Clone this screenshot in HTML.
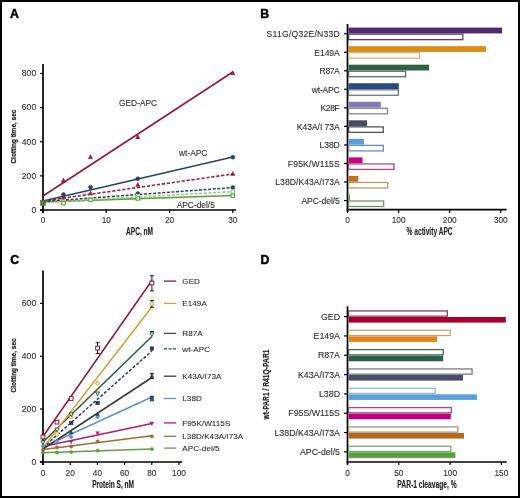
<!DOCTYPE html>
<html><head><meta charset="utf-8"><style>
html,body{margin:0;padding:0;background:#fff;}
svg{display:block;font-family:"Liberation Sans", sans-serif;will-change:transform;}
text{stroke-linejoin:round;}
.t{stroke:#2c2c2c;stroke-width:0.1;}
</style></head><body>
<svg width="520" height="498" viewBox="0 0 520 498">
<rect x="0" y="0" width="520" height="498" fill="#fff"/>
<rect x="1" y="1" width="518" height="496" fill="none" stroke="#000" stroke-width="2"/>
<text  x="9.9" y="17.7" font-size="12.3" text-anchor="start" fill="#000" font-weight="bold" stroke="#000" stroke-width="0.45">A</text>
<text  x="260.3" y="17.6" font-size="12.3" text-anchor="start" fill="#000" font-weight="bold" stroke="#000" stroke-width="0.45">B</text>
<text  x="10.2" y="264.2" font-size="12.3" text-anchor="start" fill="#000" font-weight="bold" stroke="#000" stroke-width="0.45">C</text>
<text  x="260.4" y="264.1" font-size="12.3" text-anchor="start" fill="#000" font-weight="bold" stroke="#000" stroke-width="0.45">D</text>
<line x1="43" y1="64" x2="43" y2="213" stroke="#000" stroke-width="1.7" />
<line x1="40" y1="210" x2="236" y2="210" stroke="#000" stroke-width="1.7" />
<line x1="40" y1="210.0" x2="43" y2="210.0" stroke="#000" stroke-width="1.2" />
<text class="t" x="36.2" y="212.8" font-size="8.6" text-anchor="end" fill="#2c2c2c" font-weight="normal" >0</text>
<line x1="40" y1="175.875" x2="43" y2="175.875" stroke="#000" stroke-width="1.2" />
<text class="t" x="36.2" y="178.675" font-size="8.6" text-anchor="end" fill="#2c2c2c" font-weight="normal" >200</text>
<line x1="40" y1="141.75" x2="43" y2="141.75" stroke="#000" stroke-width="1.2" />
<text class="t" x="36.2" y="144.55" font-size="8.6" text-anchor="end" fill="#2c2c2c" font-weight="normal" >400</text>
<line x1="40" y1="107.625" x2="43" y2="107.625" stroke="#000" stroke-width="1.2" />
<text class="t" x="36.2" y="110.425" font-size="8.6" text-anchor="end" fill="#2c2c2c" font-weight="normal" >600</text>
<line x1="40" y1="73.5" x2="43" y2="73.5" stroke="#000" stroke-width="1.2" />
<text class="t" x="36.2" y="76.3" font-size="8.6" text-anchor="end" fill="#2c2c2c" font-weight="normal" >800</text>
<line x1="43" y1="210" x2="43" y2="213" stroke="#000" stroke-width="1.2" />
<text class="t" x="43" y="223" font-size="8.3" text-anchor="middle" fill="#2c2c2c" font-weight="normal" >0</text>
<line x1="106.3" y1="210" x2="106.3" y2="213" stroke="#000" stroke-width="1.2" />
<text class="t" x="106.3" y="223" font-size="8.3" text-anchor="middle" fill="#2c2c2c" font-weight="normal" >10</text>
<line x1="169.6" y1="210" x2="169.6" y2="213" stroke="#000" stroke-width="1.2" />
<text class="t" x="169.6" y="223" font-size="8.3" text-anchor="middle" fill="#2c2c2c" font-weight="normal" >20</text>
<line x1="232.8" y1="210" x2="232.8" y2="213" stroke="#000" stroke-width="1.2" />
<text class="t" x="232.8" y="223" font-size="8.3" text-anchor="middle" fill="#2c2c2c" font-weight="normal" >30</text>
<text x="139.6" y="234.6" font-size="10" font-weight="bold" fill="#222" stroke="#222" stroke-width="0.12" text-anchor="middle" textLength="27" lengthAdjust="spacingAndGlyphs">APC, nM</text>
<text transform="translate(15.8,136.6) rotate(-90)" x="0" y="0" font-size="8" stroke="#222" stroke-width="0.25" font-weight="bold" fill="#222" stroke="#222" stroke-width="0.2" text-anchor="middle" textLength="54" lengthAdjust="spacingAndGlyphs">Clotting time, sec</text>
<text class="t" x="119" y="106.1" font-size="8.4" text-anchor="start" fill="#2c2c2c" font-weight="normal" >GED-APC</text>
<text class="t" x="179" y="156.4" font-size="8.4" text-anchor="start" fill="#2c2c2c" font-weight="normal" >wt-APC</text>
<text class="t" x="176.7" y="207.6" font-size="8.4" text-anchor="start" fill="#2c2c2c" font-weight="normal" >APC-del/5</text>
<line x1="43" y1="201.8" x2="232.8" y2="195.5" stroke="#5aa040" stroke-width="1.7" />
<line x1="43" y1="202.5" x2="232.8" y2="191.6" stroke="#9cc878" stroke-width="1.5" stroke-dasharray="3,1.6"/>
<line x1="43" y1="201.5" x2="232.8" y2="187.6" stroke="#28406a" stroke-width="1.5" stroke-dasharray="3,1.6"/>
<line x1="43" y1="201" x2="232.8" y2="174" stroke="#a81e38" stroke-width="1.6" stroke-dasharray="3.2,1.8"/>
<line x1="43" y1="201" x2="232.8" y2="157" stroke="#28406a" stroke-width="1.5" />
<line x1="43" y1="196" x2="232.8" y2="72" stroke="#94183a" stroke-width="1.6" />
<path d="M61.40,198.98 L65.60,198.98 L63.50,194.99 Z" fill="#a81e38" stroke="#a81e38" stroke-width="0.6"/>
<path d="M88.40,194.98 L92.60,194.98 L90.50,190.99 Z" fill="#a81e38" stroke="#a81e38" stroke-width="0.6"/>
<path d="M135.70,186.48 L139.90,186.48 L137.80,182.49 Z" fill="#a81e38" stroke="#a81e38" stroke-width="0.6"/>
<path d="M230.70,175.38 L234.90,175.38 L232.80,171.39 Z" fill="#a81e38" stroke="#a81e38" stroke-width="0.6"/>
<circle cx="137.8" cy="193.6" r="2.0" fill="#28406a" stroke="#28406a" stroke-width="0.5"/>
<circle cx="232.8" cy="187.6" r="2.0" fill="#28406a" stroke="#28406a" stroke-width="0.5"/>
<rect x="61.8" y="200.3" width="3.4" height="3.4" fill="#f4faee" stroke="#9cc878" stroke-width="1"/>
<rect x="88.8" y="197.8" width="3.4" height="3.4" fill="#f4faee" stroke="#9cc878" stroke-width="1"/>
<rect x="136.10000000000002" y="194.3" width="3.4" height="3.4" fill="#f4faee" stroke="#9cc878" stroke-width="1"/>
<rect x="231.10000000000002" y="189.9" width="3.4" height="3.4" fill="#f4faee" stroke="#9cc878" stroke-width="1"/>
<rect x="61.8" y="201.60000000000002" width="3.4" height="3.4" fill="#eef6e6" stroke="#5aa040" stroke-width="1"/>
<rect x="88.8" y="198.10000000000002" width="3.4" height="3.4" fill="#eef6e6" stroke="#5aa040" stroke-width="1"/>
<rect x="136.10000000000002" y="196.8" width="3.4" height="3.4" fill="#eef6e6" stroke="#5aa040" stroke-width="1"/>
<rect x="231.10000000000002" y="194.0" width="3.4" height="3.4" fill="#eef6e6" stroke="#5aa040" stroke-width="1"/>
<rect x="40.6" y="200.6" width="4.8" height="4.8" fill="#5a7a3a" stroke="#4a6a30" stroke-width="0.6"/>
<circle cx="63.5" cy="194.5" r="2.0" fill="#28406a" stroke="#28406a" stroke-width="0.5"/>
<circle cx="90.5" cy="187.2" r="2.0" fill="#28406a" stroke="#28406a" stroke-width="0.5"/>
<circle cx="137.8" cy="178.7" r="2.0" fill="#28406a" stroke="#28406a" stroke-width="0.5"/>
<circle cx="232.8" cy="157.2" r="2.0" fill="#28406a" stroke="#28406a" stroke-width="0.5"/>
<path d="M61.40,182.18 L65.60,182.18 L63.50,178.19 Z" fill="#94183a" stroke="#94183a" stroke-width="0.6"/>
<path d="M88.40,158.68 L92.60,158.68 L90.50,154.69 Z" fill="#94183a" stroke="#94183a" stroke-width="0.6"/>
<path d="M135.70,138.68 L139.90,138.68 L137.80,134.69 Z" fill="#94183a" stroke="#94183a" stroke-width="0.6"/>
<path d="M230.70,74.68 L234.90,74.68 L232.80,70.69 Z" fill="#94183a" stroke="#94183a" stroke-width="0.6"/>
<line x1="347.5" y1="24" x2="347.5" y2="212" stroke="#000" stroke-width="1.7" />
<line x1="346.65" y1="209.7" x2="506.5" y2="209.7" stroke="#000" stroke-width="1.7" />
<line x1="347.5" y1="209.7" x2="347.5" y2="213" stroke="#000" stroke-width="1.2" />
<text class="t" x="347.5" y="223.2" font-size="8.3" text-anchor="middle" fill="#2c2c2c" font-weight="normal" >0</text>
<line x1="398.6" y1="209.7" x2="398.6" y2="213" stroke="#000" stroke-width="1.2" />
<text class="t" x="398.6" y="223.2" font-size="8.3" text-anchor="middle" fill="#2c2c2c" font-weight="normal" >100</text>
<line x1="449.7" y1="209.7" x2="449.7" y2="213" stroke="#000" stroke-width="1.2" />
<text class="t" x="449.7" y="223.2" font-size="8.3" text-anchor="middle" fill="#2c2c2c" font-weight="normal" >200</text>
<line x1="500.8" y1="209.7" x2="500.8" y2="213" stroke="#000" stroke-width="1.2" />
<text class="t" x="500.8" y="223.2" font-size="8.3" text-anchor="middle" fill="#2c2c2c" font-weight="normal" >300</text>
<text x="429.6" y="234.5" font-size="10" font-weight="bold" fill="#222" stroke="#222" stroke-width="0.12" text-anchor="middle" textLength="46" lengthAdjust="spacingAndGlyphs">% activity APC</text>
<line x1="344" y1="33.7" x2="347.5" y2="33.7" stroke="#000" stroke-width="1.2" />
<text class="t" x="266.6" y="37.10" font-size="8.6" fill="#2c2c2c" textLength="73.2" lengthAdjust="spacing">S11G/Q32E/N33D</text>
<rect x="348.5" y="27.6" width="153.5" height="5.8" fill="#52286c" stroke="none" stroke-width="1"/>
<rect x="348.65" y="34.150000000000006" width="114.20000000000002" height="5.5" fill="#fff" stroke="#5a3c70" stroke-width="1.3"/>
<line x1="344" y1="52.24" x2="347.5" y2="52.24" stroke="#000" stroke-width="1.2" />
<text class="t" x="314.3" y="55.64" font-size="8.6" fill="#2c2c2c" textLength="25.5" lengthAdjust="spacing">E149A</text>
<rect x="348.5" y="46.14" width="137.60000000000002" height="5.8" fill="#da8e16" stroke="none" stroke-width="1"/>
<rect x="348.65" y="52.690000000000005" width="70.80000000000004" height="5.5" fill="#fff" stroke="#d2b080" stroke-width="1.3"/>
<line x1="344" y1="70.78" x2="347.5" y2="70.78" stroke="#000" stroke-width="1.2" />
<text class="t" x="319.6" y="74.18" font-size="8.6" fill="#2c2c2c" textLength="20.2" lengthAdjust="spacing">R87A</text>
<rect x="348.5" y="64.68" width="80.60000000000002" height="5.8" fill="#30604a" stroke="none" stroke-width="1"/>
<rect x="348.65" y="71.23" width="56.90000000000001" height="5.5" fill="#fff" stroke="#5a6e62" stroke-width="1.3"/>
<line x1="344" y1="89.32" x2="347.5" y2="89.32" stroke="#000" stroke-width="1.2" />
<text class="t" x="311.7" y="92.72" font-size="8.6" fill="#2c2c2c" textLength="28.1" lengthAdjust="spacing">wt-APC</text>
<rect x="348.5" y="83.22" width="50.30000000000001" height="5.8" fill="#2a4a80" stroke="none" stroke-width="1"/>
<rect x="348.65" y="89.77" width="49.700000000000024" height="5.5" fill="#fff" stroke="#687890" stroke-width="1.3"/>
<line x1="344" y1="107.86" x2="347.5" y2="107.86" stroke="#000" stroke-width="1.2" />
<text class="t" x="320.5" y="111.26" font-size="8.6" fill="#2c2c2c" textLength="19.3" lengthAdjust="spacing">K28F</text>
<rect x="348.5" y="101.76" width="32.30000000000001" height="5.8" fill="#8478b8" stroke="none" stroke-width="1"/>
<rect x="348.65" y="108.31" width="38.80000000000005" height="5.5" fill="#fff" stroke="#858598" stroke-width="1.3"/>
<line x1="344" y1="126.39999999999999" x2="347.5" y2="126.39999999999999" stroke="#000" stroke-width="1.2" />
<text class="t" x="296.8" y="129.80" font-size="8.6" fill="#2c2c2c" textLength="43.0" lengthAdjust="spacing">K43A/I 73A</text>
<rect x="348.5" y="120.3" width="18.600000000000023" height="5.8" fill="#484c60" stroke="none" stroke-width="1"/>
<rect x="348.65" y="126.85" width="34.6" height="5.5" fill="#fff" stroke="#505058" stroke-width="1.3"/>
<line x1="344" y1="144.94" x2="347.5" y2="144.94" stroke="#000" stroke-width="1.2" />
<text class="t" x="319.6" y="148.34" font-size="8.6" fill="#2c2c2c" textLength="20.2" lengthAdjust="spacing">L38D</text>
<rect x="348.5" y="138.84" width="15.399999999999977" height="5.8" fill="#5aa0d8" stroke="none" stroke-width="1"/>
<rect x="348.65" y="145.39" width="34.700000000000024" height="5.5" fill="#fff" stroke="#6a90b0" stroke-width="1.3"/>
<line x1="344" y1="163.48000000000002" x2="347.5" y2="163.48000000000002" stroke="#000" stroke-width="1.2" />
<text class="t" x="287.8" y="166.88" font-size="8.6" fill="#2c2c2c" textLength="52.0" lengthAdjust="spacing">F95K/W115S</text>
<rect x="348.5" y="157.38000000000002" width="14.0" height="5.8" fill="#c8047e" stroke="none" stroke-width="1"/>
<rect x="348.65" y="163.93" width="45.30000000000005" height="5.5" fill="#fff" stroke="#b04880" stroke-width="1.3"/>
<line x1="344" y1="182.01999999999998" x2="347.5" y2="182.01999999999998" stroke="#000" stroke-width="1.2" />
<text class="t" x="275.3" y="185.42" font-size="8.6" fill="#2c2c2c" textLength="64.5" lengthAdjust="spacing">L38D/K43A/I73A</text>
<rect x="348.5" y="175.92" width="9.800000000000011" height="5.8" fill="#c07020" stroke="none" stroke-width="1"/>
<rect x="348.65" y="182.46999999999997" width="39.200000000000024" height="5.5" fill="#fff" stroke="#b89868" stroke-width="1.3"/>
<line x1="344" y1="200.56" x2="347.5" y2="200.56" stroke="#000" stroke-width="1.2" />
<text class="t" x="301.4" y="203.96" font-size="8.6" fill="#2c2c2c" textLength="38.4" lengthAdjust="spacing">APC-del/5</text>
<rect x="348.5" y="194.46" width="1.6000000000000227" height="5.8" fill="#6a9a50" stroke="none" stroke-width="1"/>
<rect x="348.65" y="201.01" width="35.000000000000036" height="5.5" fill="#fff" stroke="#7a9060" stroke-width="1.3"/>
<line x1="43" y1="270.5" x2="43" y2="465" stroke="#000" stroke-width="1.7" />
<line x1="40" y1="462" x2="182.3" y2="462" stroke="#000" stroke-width="1.7" />
<line x1="40" y1="461.8" x2="43" y2="461.8" stroke="#000" stroke-width="1.2" />
<text class="t" x="36.2" y="464.6" font-size="8.6" text-anchor="end" fill="#2c2c2c" font-weight="normal" >0</text>
<line x1="40" y1="409.0" x2="43" y2="409.0" stroke="#000" stroke-width="1.2" />
<text class="t" x="36.2" y="411.8" font-size="8.6" text-anchor="end" fill="#2c2c2c" font-weight="normal" >200</text>
<line x1="40" y1="356.2" x2="43" y2="356.2" stroke="#000" stroke-width="1.2" />
<text class="t" x="36.2" y="359.0" font-size="8.6" text-anchor="end" fill="#2c2c2c" font-weight="normal" >400</text>
<line x1="40" y1="303.4" x2="43" y2="303.4" stroke="#000" stroke-width="1.2" />
<text class="t" x="36.2" y="306.2" font-size="8.6" text-anchor="end" fill="#2c2c2c" font-weight="normal" >600</text>
<line x1="43" y1="462" x2="43" y2="465" stroke="#000" stroke-width="1.2" />
<text class="t" x="43" y="476" font-size="8.3" text-anchor="middle" fill="#2c2c2c" font-weight="normal" >0</text>
<line x1="70.2" y1="462" x2="70.2" y2="465" stroke="#000" stroke-width="1.2" />
<text class="t" x="70.2" y="476" font-size="8.3" text-anchor="middle" fill="#2c2c2c" font-weight="normal" >20</text>
<line x1="97.4" y1="462" x2="97.4" y2="465" stroke="#000" stroke-width="1.2" />
<text class="t" x="97.4" y="476" font-size="8.3" text-anchor="middle" fill="#2c2c2c" font-weight="normal" >40</text>
<line x1="124.6" y1="462" x2="124.6" y2="465" stroke="#000" stroke-width="1.2" />
<text class="t" x="124.6" y="476" font-size="8.3" text-anchor="middle" fill="#2c2c2c" font-weight="normal" >60</text>
<line x1="151.8" y1="462" x2="151.8" y2="465" stroke="#000" stroke-width="1.2" />
<text class="t" x="151.8" y="476" font-size="8.3" text-anchor="middle" fill="#2c2c2c" font-weight="normal" >80</text>
<line x1="179" y1="462" x2="179" y2="465" stroke="#000" stroke-width="1.2" />
<text class="t" x="179" y="476" font-size="8.3" text-anchor="middle" fill="#2c2c2c" font-weight="normal" >100</text>
<text x="113.1" y="487.9" font-size="10.1" font-weight="bold" fill="#222" stroke="#222" stroke-width="0.12" text-anchor="middle" textLength="41.8" lengthAdjust="spacingAndGlyphs">Protein S, nM</text>
<text transform="translate(15.8,365.4) rotate(-90)" x="0" y="0" font-size="8" stroke="#222" stroke-width="0.25" font-weight="bold" fill="#222" stroke="#222" stroke-width="0.2" text-anchor="middle" textLength="54" lengthAdjust="spacingAndGlyphs">Clotting time, sec</text>
<line x1="43" y1="452.7" x2="151.9" y2="449.1" stroke="#5e9e46" stroke-width="1.5" />
<line x1="43" y1="449.4" x2="151.9" y2="435.8" stroke="#a06a3a" stroke-width="1.5" />
<line x1="43" y1="446.5" x2="151.9" y2="423.6" stroke="#b81a6e" stroke-width="1.5" />
<line x1="43" y1="447" x2="151.9" y2="397" stroke="#5896cc" stroke-width="1.5" />
<line x1="43" y1="449" x2="151.9" y2="377.5" stroke="#38383f" stroke-width="1.5" />
<line x1="43" y1="447.5" x2="151.9" y2="351" stroke="#263a68" stroke-width="1.5" stroke-dasharray="3,1.8"/>
<line x1="43" y1="442" x2="151.9" y2="336.5" stroke="#2a5a3c" stroke-width="1.5" />
<line x1="43" y1="447.6" x2="151.9" y2="307" stroke="#d89c28" stroke-width="1.5" />
<line x1="43" y1="436.5" x2="151.9" y2="280.5" stroke="#8e1636" stroke-width="1.5" />
<line x1="164" y1="281.1" x2="176.2" y2="281.1" stroke="#8e1636" stroke-width="1.3" />
<text class="t" x="182.3" y="284.0" font-size="8.1" text-anchor="start" fill="#2c2c2c" font-weight="normal" letter-spacing="0.05">GED</text>
<line x1="164" y1="303.4" x2="176.2" y2="303.4" stroke="#d89c28" stroke-width="1.3" />
<text class="t" x="182.3" y="306.29999999999995" font-size="8.1" text-anchor="start" fill="#2c2c2c" font-weight="normal" letter-spacing="0.05">E149A</text>
<line x1="164" y1="333.4" x2="176.2" y2="333.4" stroke="#2a5a3c" stroke-width="1.3" />
<text class="t" x="182.3" y="336.29999999999995" font-size="8.1" text-anchor="start" fill="#2c2c2c" font-weight="normal" letter-spacing="0.05">R87A</text>
<line x1="164" y1="348.8" x2="176.2" y2="348.8" stroke="#263a68" stroke-width="1.3" stroke-dasharray="3,1.5"/>
<text class="t" x="182.3" y="351.7" font-size="8.1" text-anchor="start" fill="#2c2c2c" font-weight="normal" letter-spacing="0.05">wt-APC</text>
<line x1="164" y1="376.2" x2="176.2" y2="376.2" stroke="#38383f" stroke-width="1.3" />
<text class="t" x="182.3" y="379.09999999999997" font-size="8.1" text-anchor="start" fill="#2c2c2c" font-weight="normal" letter-spacing="0.05">K43A/I73A</text>
<line x1="164" y1="398.5" x2="176.2" y2="398.5" stroke="#5896cc" stroke-width="1.3" />
<text class="t" x="182.3" y="401.4" font-size="8.1" text-anchor="start" fill="#2c2c2c" font-weight="normal" letter-spacing="0.05">L38D</text>
<line x1="164" y1="422.9" x2="176.2" y2="422.9" stroke="#b81a6e" stroke-width="1.3" />
<text class="t" x="182.3" y="425.79999999999995" font-size="8.1" text-anchor="start" fill="#2c2c2c" font-weight="normal" letter-spacing="0.05">F95K/W115S</text>
<line x1="164" y1="436.3" x2="176.2" y2="436.3" stroke="#a06a3a" stroke-width="1.3" />
<text class="t" x="182.3" y="439.2" font-size="8.1" text-anchor="start" fill="#2c2c2c" font-weight="normal" letter-spacing="0.05">L38D/K43A/I73A</text>
<line x1="164" y1="448.1" x2="176.2" y2="448.1" stroke="#5e9e46" stroke-width="1.3" />
<text class="t" x="182.3" y="451.0" font-size="8.1" text-anchor="start" fill="#2c2c2c" font-weight="normal" letter-spacing="0.05">APC-del/5</text>
<line x1="97.6" y1="342.7" x2="97.6" y2="353.5" stroke="#222" stroke-width="1" />
<line x1="95.6" y1="342.7" x2="99.6" y2="342.7" stroke="#222" stroke-width="1.1" />
<line x1="95.6" y1="353.5" x2="99.6" y2="353.5" stroke="#222" stroke-width="1.1" />
<line x1="151.9" y1="275.8" x2="151.9" y2="290.9" stroke="#222" stroke-width="1" />
<line x1="149.9" y1="275.8" x2="153.9" y2="275.8" stroke="#222" stroke-width="1.1" />
<line x1="149.9" y1="290.9" x2="153.9" y2="290.9" stroke="#222" stroke-width="1.1" />
<line x1="151.9" y1="300.5" x2="151.9" y2="307.2" stroke="#222" stroke-width="1" />
<line x1="149.9" y1="300.5" x2="153.9" y2="300.5" stroke="#222" stroke-width="1.1" />
<line x1="149.9" y1="307.2" x2="153.9" y2="307.2" stroke="#222" stroke-width="1.1" />
<line x1="149.9" y1="331.4" x2="153.9" y2="331.4" stroke="#222" stroke-width="1.1" />
<line x1="151.9" y1="373.6" x2="151.9" y2="378.4" stroke="#222" stroke-width="1" />
<line x1="149.9" y1="373.6" x2="153.9" y2="373.6" stroke="#222" stroke-width="1.1" />
<line x1="149.9" y1="378.4" x2="153.9" y2="378.4" stroke="#222" stroke-width="1.1" />
<circle cx="43" cy="452.5" r="1.7" fill="#5e9e46" stroke="#5e9e46" stroke-width="0.5"/>
<circle cx="57" cy="452.5" r="1.7" fill="#5e9e46" stroke="#5e9e46" stroke-width="0.5"/>
<circle cx="71.2" cy="452.1" r="1.7" fill="#5e9e46" stroke="#5e9e46" stroke-width="0.5"/>
<circle cx="97.6" cy="450.6" r="1.7" fill="#5e9e46" stroke="#5e9e46" stroke-width="0.5"/>
<circle cx="151.9" cy="449.1" r="1.7" fill="#5e9e46" stroke="#5e9e46" stroke-width="0.5"/>
<circle cx="43" cy="450.1" r="1.7" fill="#a06a3a" stroke="#a06a3a" stroke-width="0.5"/>
<circle cx="57" cy="447.3" r="1.7" fill="#a06a3a" stroke="#a06a3a" stroke-width="0.5"/>
<circle cx="71.2" cy="446.5" r="1.7" fill="#a06a3a" stroke="#a06a3a" stroke-width="0.5"/>
<circle cx="97.6" cy="441.5" r="1.7" fill="#a06a3a" stroke="#a06a3a" stroke-width="0.5"/>
<circle cx="151.9" cy="436.4" r="1.7" fill="#a06a3a" stroke="#a06a3a" stroke-width="0.5"/>
<path d="M69.40,440.26 L73.00,440.26 L71.20,443.68 Z" fill="#b81a6e" stroke="#b81a6e" stroke-width="0.5"/>
<path d="M95.80,431.76 L99.40,431.76 L97.60,435.18 Z" fill="#b81a6e" stroke="#b81a6e" stroke-width="0.5"/>
<path d="M150.10,421.96 L153.70,421.96 L151.90,425.38 Z" fill="#b81a6e" stroke="#b81a6e" stroke-width="0.5"/>
<path d="M43,444.0 L45.1,446.1 L43,448.20000000000005 L40.9,446.1 Z" fill="#5896cc" stroke="#5896cc" stroke-width="0.5"/>
<path d="M57,439.2 L59.1,441.3 L57,443.40000000000003 L54.9,441.3 Z" fill="#5896cc" stroke="#5896cc" stroke-width="0.5"/>
<path d="M71.2,434.79999999999995 L73.3,436.9 L71.2,439.0 L69.10000000000001,436.9 Z" fill="#5896cc" stroke="#5896cc" stroke-width="0.5"/>
<path d="M97.6,415.0 L99.69999999999999,417.1 L97.6,419.20000000000005 L95.5,417.1 Z" fill="#5896cc" stroke="#5896cc" stroke-width="0.5"/>
<rect x="150.1" y="396.7" width="3.6" height="3.6" fill="#3a5a80" stroke="#3a5a80" stroke-width="0.5"/>
<line x1="151.9" y1="396.3" x2="151.9" y2="400.7" stroke="#2a3a50" stroke-width="1" />
<line x1="149.9" y1="396.3" x2="153.9" y2="396.3" stroke="#2a3a50" stroke-width="1.1" />
<line x1="149.9" y1="400.7" x2="153.9" y2="400.7" stroke="#2a3a50" stroke-width="1.1" />
<path d="M69.40,433.84 L73.00,433.84 L71.20,430.42 Z" fill="#38383f" stroke="#38383f" stroke-width="0.5"/>
<path d="M95.80,415.44 L99.40,415.44 L97.60,412.02 Z" fill="#38383f" stroke="#38383f" stroke-width="0.5"/>
<path d="M150.10,377.44 L153.70,377.44 L151.90,374.02 Z" fill="#38383f" stroke="#38383f" stroke-width="0.5"/>
<rect x="69.4" y="421.2" width="3.6" height="3.6" fill="#263a68" stroke="#263a68" stroke-width="0.5"/>
<rect x="95.8" y="401.2" width="3.6" height="3.6" fill="#263a68" stroke="#263a68" stroke-width="0.5"/>
<rect x="150.1" y="346.8" width="3.6" height="3.6" fill="#263a68" stroke="#263a68" stroke-width="0.5"/>
<circle cx="57" cy="434.5" r="1.8" fill="#fff" stroke="#d89c28" stroke-width="1"/>
<circle cx="71.2" cy="416.9" r="1.8" fill="#fff" stroke="#d89c28" stroke-width="1"/>
<circle cx="97.6" cy="383.3" r="1.8" fill="#fff" stroke="#d89c28" stroke-width="1"/>
<circle cx="151.9" cy="303.8" r="1.8" fill="#fff" stroke="#d89c28" stroke-width="1"/>
<path d="M41.00,440.90 L45.00,440.90 L43.00,444.70 Z" fill="#fff" stroke="#2a5a3c" stroke-width="1"/>
<path d="M55.00,428.10 L59.00,428.10 L57.00,431.90 Z" fill="#fff" stroke="#2a5a3c" stroke-width="1"/>
<path d="M69.20,412.90 L73.20,412.90 L71.20,416.70 Z" fill="#fff" stroke="#2a5a3c" stroke-width="1"/>
<path d="M95.60,392.00 L99.60,392.00 L97.60,395.80 Z" fill="#fff" stroke="#2a5a3c" stroke-width="1"/>
<path d="M149.90,332.70 L153.90,332.70 L151.90,336.50 Z" fill="#fff" stroke="#2a5a3c" stroke-width="1"/>
<rect x="41.1" y="435.1" width="3.8" height="3.8" fill="#fff" stroke="#8e1636" stroke-width="1"/>
<rect x="55.1" y="420.20000000000005" width="3.8" height="3.8" fill="#fff" stroke="#8e1636" stroke-width="1"/>
<rect x="69.3" y="396.6" width="3.8" height="3.8" fill="#fff" stroke="#8e1636" stroke-width="1"/>
<rect x="95.69999999999999" y="346.20000000000005" width="3.8" height="3.8" fill="#fff" stroke="#8e1636" stroke-width="1"/>
<rect x="150.0" y="281.1" width="3.8" height="3.8" fill="#fff" stroke="#8e1636" stroke-width="1"/>
<line x1="347.5" y1="306.3" x2="347.5" y2="464.5" stroke="#000" stroke-width="1.7" />
<line x1="346.65" y1="462" x2="506.7" y2="462" stroke="#000" stroke-width="1.7" />
<line x1="347.5" y1="462" x2="347.5" y2="465" stroke="#000" stroke-width="1.2" />
<text class="t" x="347.5" y="476" font-size="8.3" text-anchor="middle" fill="#2c2c2c" font-weight="normal" >0</text>
<line x1="398.8" y1="462" x2="398.8" y2="465" stroke="#000" stroke-width="1.2" />
<text class="t" x="398.8" y="476" font-size="8.3" text-anchor="middle" fill="#2c2c2c" font-weight="normal" >50</text>
<line x1="450.1" y1="462" x2="450.1" y2="465" stroke="#000" stroke-width="1.2" />
<text class="t" x="450.1" y="476" font-size="8.3" text-anchor="middle" fill="#2c2c2c" font-weight="normal" >100</text>
<line x1="501.4" y1="462" x2="501.4" y2="465" stroke="#000" stroke-width="1.2" />
<text class="t" x="501.4" y="476" font-size="8.3" text-anchor="middle" fill="#2c2c2c" font-weight="normal" >150</text>
<text x="427" y="487.5" font-size="10.1" font-weight="bold" fill="#222" stroke="#222" stroke-width="0.12" text-anchor="middle" textLength="59.3" lengthAdjust="spacingAndGlyphs">PAR-1 cleavage, %</text>
<text transform="translate(269.3,384.5) rotate(-90)" x="0" y="0" font-size="8.8" font-weight="bold" fill="#222" stroke="#222" stroke-width="0.2" text-anchor="middle" textLength="70" lengthAdjust="spacingAndGlyphs">wt-PAR1 / R41Q-PAR1</text>
<line x1="344" y1="316.6" x2="347.5" y2="316.6" stroke="#000" stroke-width="1.2" />
<text class="t" x="340" y="319.70000000000005" font-size="8.8" text-anchor="end" fill="#2c2c2c" font-weight="normal" >GED</text>
<rect x="348.65" y="310.95000000000005" width="98.70000000000002" height="5.2" fill="#fff" stroke="#904058" stroke-width="1.3"/>
<rect x="348.5" y="317.0" width="157.3" height="5.6" fill="#a80028" stroke="none" stroke-width="1"/>
<line x1="344" y1="335.93" x2="347.5" y2="335.93" stroke="#000" stroke-width="1.2" />
<text class="t" x="340" y="339.03000000000003" font-size="8.8" text-anchor="end" fill="#2c2c2c" font-weight="normal" >E149A</text>
<rect x="348.65" y="330.28000000000003" width="101.50000000000003" height="5.2" fill="#fff" stroke="#c8a474" stroke-width="1.3"/>
<rect x="348.5" y="336.33" width="88.5" height="5.6" fill="#e0861a" stroke="none" stroke-width="1"/>
<line x1="344" y1="355.26" x2="347.5" y2="355.26" stroke="#000" stroke-width="1.2" />
<text class="t" x="340" y="358.36" font-size="8.8" text-anchor="end" fill="#2c2c2c" font-weight="normal" >R87A</text>
<rect x="348.65" y="349.61" width="94.6" height="5.2" fill="#fff" stroke="#4a6a50" stroke-width="1.3"/>
<rect x="348.5" y="355.65999999999997" width="94.69999999999999" height="5.6" fill="#2e5e48" stroke="none" stroke-width="1"/>
<line x1="344" y1="374.59000000000003" x2="347.5" y2="374.59000000000003" stroke="#000" stroke-width="1.2" />
<text class="t" x="340" y="377.69000000000005" font-size="8.8" text-anchor="end" fill="#2c2c2c" font-weight="normal" >K43A/I73A</text>
<rect x="348.65" y="368.94000000000005" width="123.4" height="5.2" fill="#fff" stroke="#7a7880" stroke-width="1.3"/>
<rect x="348.5" y="374.99" width="114.5" height="5.6" fill="#4a4e68" stroke="none" stroke-width="1"/>
<line x1="344" y1="393.92" x2="347.5" y2="393.92" stroke="#000" stroke-width="1.2" />
<text class="t" x="340" y="397.02000000000004" font-size="8.8" text-anchor="end" fill="#2c2c2c" font-weight="normal" >L38D</text>
<rect x="348.65" y="388.27000000000004" width="86.50000000000003" height="5.2" fill="#fff" stroke="#98b8d0" stroke-width="1.3"/>
<rect x="348.5" y="394.32" width="128.39999999999998" height="5.6" fill="#5aa0dc" stroke="none" stroke-width="1"/>
<line x1="344" y1="413.25" x2="347.5" y2="413.25" stroke="#000" stroke-width="1.2" />
<text class="t" x="340" y="416.35" font-size="8.8" text-anchor="end" fill="#2c2c2c" font-weight="normal" >F95S/W115S</text>
<rect x="348.65" y="407.6" width="102.70000000000002" height="5.2" fill="#fff" stroke="#a04880" stroke-width="1.3"/>
<rect x="348.5" y="413.65" width="102.30000000000001" height="5.6" fill="#c0007a" stroke="none" stroke-width="1"/>
<line x1="344" y1="432.58000000000004" x2="347.5" y2="432.58000000000004" stroke="#000" stroke-width="1.2" />
<text class="t" x="340" y="435.68000000000006" font-size="8.8" text-anchor="end" fill="#2c2c2c" font-weight="normal" >L38D/K43A/I73A</text>
<rect x="348.65" y="426.93000000000006" width="109.1" height="5.2" fill="#fff" stroke="#b09070" stroke-width="1.3"/>
<rect x="348.5" y="432.98" width="115.5" height="5.6" fill="#b06a20" stroke="none" stroke-width="1"/>
<line x1="344" y1="451.91" x2="347.5" y2="451.91" stroke="#000" stroke-width="1.2" />
<text class="t" x="340" y="455.01000000000005" font-size="8.8" text-anchor="end" fill="#2c2c2c" font-weight="normal" >APC-del/5</text>
<rect x="348.65" y="446.26000000000005" width="102.20000000000002" height="5.2" fill="#fff" stroke="#80a078" stroke-width="1.3"/>
<rect x="348.5" y="452.31" width="106.89999999999998" height="5.6" fill="#58a040" stroke="none" stroke-width="1"/>
</svg>
</body></html>
